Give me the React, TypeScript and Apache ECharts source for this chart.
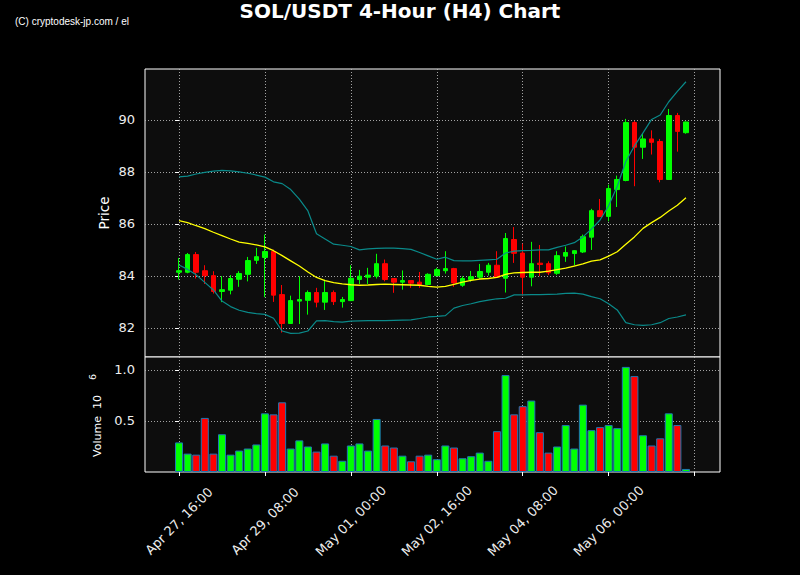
import React, { useEffect, useRef } from "react";
import * as echarts from "echarts";

// ---- data (4-hour candles, index 0 = Apr 27, 16:00) ----
const opens = [84.14, 84.14, 84.82, 84.2, 84.01, 83.4, 83.45, 83.87, 84.06, 84.6, 84.71, 84.94, 83.28, 82.17, 83.03, 83.06, 83.36, 82.99, 83.36, 83.01, 83.05, 83.86, 83.95, 83.99, 84.47, 83.9, 83.76, 83.82, 83.76, 83.67, 84.01, 84.2, 84.28, 83.64, 83.86, 83.95, 84.14, 84.41, 83.91, 85.4, 84.88, 83.95, 84.49, 84.47, 84.1, 84.76, 84.86, 84.92, 85.49, 86.51, 86.29, 87.32, 87.67, 89.9, 88.95, 89.27, 89.17, 87.71, 90.17, 89.51];
const closes = [84.2, 84.82, 84.14, 84.01, 83.4, 83.47, 83.9, 84.09, 84.59, 84.74, 84.94, 83.26, 82.17, 83.05, 83.09, 83.36, 82.99, 83.36, 83.01, 83.09, 83.91, 83.99, 84.03, 84.47, 83.86, 83.76, 83.82, 83.72, 83.67, 84.06, 84.24, 84.28, 83.73, 83.9, 83.97, 84.17, 84.41, 83.95, 85.44, 84.87, 83.95, 84.47, 84.44, 84.12, 84.78, 84.9, 84.97, 85.51, 86.51, 86.28, 87.36, 87.71, 89.9, 88.95, 89.27, 89.14, 87.71, 90.17, 89.56, 89.92];
const lows = [83.86, 84.1, 83.9, 83.69, 83.32, 82.99, 83.29, 83.58, 83.79, 84.46, 83.18, 83.0, 81.82, 82.17, 82.15, 82.51, 82.79, 82.69, 82.88, 82.78, 83.03, 83.69, 83.69, 83.9, 83.79, 83.35, 83.47, 83.54, 83.54, 83.65, 83.99, 84.09, 83.58, 83.58, 83.78, 83.88, 84.01, 83.92, 83.36, 84.5, 83.24, 83.6, 83.99, 84.03, 84.04, 84.54, 84.41, 84.88, 85.0, 86.28, 86.1, 86.65, 87.64, 87.45, 88.5, 88.67, 87.6, 87.71, 88.78, 89.47];
const highs = [84.69, 84.88, 84.92, 84.41, 84.18, 83.99, 84.03, 84.18, 84.73, 85.08, 85.59, 85.01, 83.65, 83.24, 83.99, 83.44, 83.54, 83.85, 83.44, 83.19, 84.41, 84.23, 84.31, 84.85, 84.63, 83.9, 84.21, 83.82, 84.15, 84.1, 84.31, 84.95, 84.31, 83.99, 84.19, 84.46, 84.5, 84.95, 85.65, 85.88, 85.24, 85.31, 85.19, 84.56, 84.95, 85.13, 84.99, 85.59, 86.58, 86.96, 87.51, 87.86, 90.04, 89.96, 89.5, 89.6, 89.27, 90.42, 90.27, 89.94];
const volumes = [0.29, 0.18, 0.17, 0.53, 0.18, 0.37, 0.17, 0.21, 0.23, 0.27, 0.575, 0.565, 0.683, 0.23, 0.31, 0.25, 0.2, 0.28, 0.16, 0.11, 0.26, 0.28, 0.21, 0.52, 0.26, 0.24, 0.16, 0.105, 0.16, 0.17, 0.125, 0.26, 0.24, 0.135, 0.155, 0.19, 0.11, 0.4, 0.95, 0.565, 0.645, 0.7, 0.39, 0.19, 0.25, 0.46, 0.23, 0.66, 0.41, 0.44, 0.46, 0.43, 1.03, 0.94, 0.36, 0.26, 0.33, 0.575, 0.46, 0.03];
const bbMiddle = [86.13, 86.05, 85.93, 85.82, 85.68, 85.55, 85.42, 85.3, 85.25, 85.19, 85.12, 84.97, 84.78, 84.58, 84.38, 84.15, 83.94, 83.82, 83.74, 83.69, 83.66, 83.64, 83.65, 83.67, 83.68, 83.67, 83.66, 83.65, 83.64, 83.6, 83.57, 83.6, 83.67, 83.76, 83.83, 83.88, 83.9, 83.94, 84.06, 84.12, 84.13, 84.14, 84.14, 84.18, 84.24, 84.3, 84.38, 84.46, 84.57, 84.62, 84.76, 84.93, 85.22, 85.5, 85.83, 86.05, 86.25, 86.5, 86.72, 87.01];
const bbUpper = [87.81, 87.84, 87.92, 87.98, 88.03, 88.06, 88.04, 88.0, 87.95, 87.88, 87.8, 87.62, 87.55, 87.32, 86.95, 86.5, 85.62, 85.42, 85.22, 85.18, 85.13, 85.0, 85.04, 85.06, 85.07, 85.07, 85.05, 85.02, 84.9, 84.77, 84.64, 84.72, 84.59, 84.58, 84.58, 84.6, 84.62, 84.64, 84.88, 84.95, 84.97, 84.98, 85.0, 85.0, 85.1, 85.18, 85.28, 85.5, 85.8, 86.15, 86.7, 87.45, 88.4, 89.0, 89.5, 90.02, 90.19, 90.7, 91.1, 91.47];
const bbLower = [84.42, 84.25, 84.04, 83.75, 83.46, 83.03, 82.82, 82.68, 82.6, 82.55, 82.52, 82.37, 81.88, 81.79, 81.8, 81.88, 82.27, 82.28, 82.24, 82.22, 82.26, 82.27, 82.28, 82.28, 82.28, 82.29, 82.3, 82.31, 82.36, 82.42, 82.44, 82.47, 82.76, 82.86, 82.93, 83.01, 83.07, 83.12, 83.14, 83.27, 83.27, 83.28, 83.28, 83.29, 83.3, 83.33, 83.34, 83.3, 83.2, 83.12, 82.93, 82.69, 82.2, 82.12, 82.1, 82.12, 82.2, 82.36, 82.42, 82.5];

const xTickPositions = [0, 10, 20, 30, 40, 50, 60];
const xTickLabels = ["Apr 27, 16:00", "Apr 29, 08:00", "May 01, 00:00", "May 02, 16:00", "May 04, 08:00", "May 06, 00:00", ""];
const priceTicks = [82, 84, 86, 88, 90];
const volumeTicks = [0.5, 1.0];

const UP = "#00ff00";
const DOWN = "#ff0000";
const TEAL = "#0a8a8a";
const GRID_LINE = { color: "rgba(190,190,190,0.85)", type: [1, 2] as any, width: 1 };
const FONT = "DejaVu Sans";

export default function App() {
  const ref = useRef<HTMLDivElement>(null);

  useEffect(() => {
    if (!ref.current) return;
    const chart = echarts.init(ref.current, undefined, { renderer: "svg" });

    const candleData = opens.map((o, i) => [i, o, closes[i], lows[i], highs[i]]);
    const volData = volumes.map((v, i) => ({
      value: [i, v],
      itemStyle: { color: closes[i] >= opens[i] ? UP : DOWN },
    }));
    const line = (arr: number[]) => arr.map((v, i) => [i, v]);

    const xMin = -3.96;
    const xMax = 62.96;

    chart.setOption({
      animation: false,
      backgroundColor: "#000000",
      title: {
        text: "SOL/USDT 4-Hour (H4) Chart",
        left: "center",
        top: 1,
        padding: 0,
        textStyle: { color: "#ffffff", fontSize: 20, fontWeight: "bold", fontFamily: FONT },
      },
      graphic: [
        {
          type: "text",
          x: 15,
          y: 21,
          style: { text: "(C) cryptodesk-jp.com / el", fill: "#ffffff", font: "10px 'Liberation Sans'", align: "left", verticalAlign: "middle" },
        },
        {
          type: "text",
          x: 103.5,
          y: 213,
          rotation: Math.PI / 2,
          style: { text: "Price", fill: "#ffffff", font: `13.5px '${FONT}'`, align: "center", verticalAlign: "middle" },
        },
        {
          type: "text",
          x: 97.5,
          y: 426,
          rotation: Math.PI / 2,
          style: { text: "Volume  10", fill: "#ffffff", font: `11px '${FONT}'`, align: "center", verticalAlign: "middle" },
        },
        {
          type: "text",
          x: 92,
          y: 377,
          rotation: Math.PI / 2,
          style: { text: "6", fill: "#ffffff", font: `9.5px '${FONT}'`, align: "center", verticalAlign: "middle" },
        },
      ],
      grid: [
        { left: 145, top: 69, width: 575, height: 288, show: true, backgroundColor: "#0d0d0d", borderColor: "#ffffff", borderWidth: 1, outerBoundsMode: "none" },
        { left: 145, top: 357, width: 575, height: 115, show: true, backgroundColor: "#0d0d0d", borderColor: "#ffffff", borderWidth: 1, outerBoundsMode: "none" },
      ],
      xAxis: [
        {
          type: "value",
          gridIndex: 0,
          min: xMin,
          max: xMax,
          axisLine: { show: false },
          axisTick: { show: false, customValues: xTickPositions },
          axisLabel: { show: false, customValues: xTickPositions },
          splitLine: { show: true, lineStyle: GRID_LINE },
        },
        {
          type: "value",
          gridIndex: 1,
          min: xMin,
          max: xMax,
          axisLine: { show: false },
          axisTick: { show: true, customValues: xTickPositions, length: 4, lineStyle: { color: "#ffffff" } },
          axisLabel: {
            show: true,
            customValues: xTickPositions.slice(0, 6),
            rotate: 45,
            align: "center",
            verticalAlign: "middle",
            margin: 49,
            color: "#eeeeee",
            fontSize: 13,
            fontFamily: FONT,
            formatter: (v: number) => xTickLabels[xTickPositions.indexOf(Math.round(v))] ?? "",
          },
          splitLine: { show: true, lineStyle: GRID_LINE },
        },
      ],
      yAxis: [
        {
          type: "value",
          gridIndex: 0,
          min: 80.88,
          max: 91.96,
          axisLine: { show: false },
          axisTick: { show: true, customValues: priceTicks, length: 4, lineStyle: { color: "#ffffff" } },
          axisLabel: { customValues: priceTicks, color: "#eeeeee", fontSize: 13, fontFamily: FONT, margin: 10 },
          splitLine: { show: true, lineStyle: GRID_LINE },
        },
        {
          type: "value",
          gridIndex: 1,
          min: 0,
          max: 1.127,
          axisLine: { show: false },
          axisTick: { show: true, customValues: volumeTicks, length: 4, lineStyle: { color: "#ffffff" } },
          axisLabel: { customValues: volumeTicks, color: "#eeeeee", fontSize: 13, fontFamily: FONT, margin: 10, formatter: (v: number) => v.toFixed(1) },
          splitLine: { show: true, lineStyle: GRID_LINE },
        },
      ],
      series: [
        {
          type: "candlestick",
          xAxisIndex: 0,
          yAxisIndex: 0,
          data: candleData,
          encode: { x: 0, y: [1, 2, 3, 4] },
          barWidth: 5,
          itemStyle: { color: UP, color0: DOWN, borderColor: UP, borderColor0: DOWN, borderWidth: 1 },
          z: 2,
        },
        {
          type: "line",
          xAxisIndex: 0,
          yAxisIndex: 0,
          data: line(bbUpper),
          showSymbol: false,
          lineStyle: { color: TEAL, width: 1.2 },
          z: 3,
        },
        {
          type: "line",
          xAxisIndex: 0,
          yAxisIndex: 0,
          data: line(bbLower),
          showSymbol: false,
          lineStyle: { color: TEAL, width: 1.2 },
          z: 3,
        },
        {
          type: "line",
          xAxisIndex: 0,
          yAxisIndex: 0,
          data: line(bbMiddle),
          showSymbol: false,
          lineStyle: { color: "#ffff00", width: 1.3 },
          z: 3,
        },
        {
          type: "bar",
          xAxisIndex: 1,
          yAxisIndex: 1,
          data: volData,
          barWidth: 8,
          itemStyle: { borderColor: "#1f77b4", borderWidth: 1 },
        },
      ],
    });

    return () => chart.dispose();
  }, []);

  return (
    <div
      ref={ref}
      style={{ position: "fixed", left: 0, top: 0, width: 800, height: 575, background: "#000" }}
    />
  );
}
